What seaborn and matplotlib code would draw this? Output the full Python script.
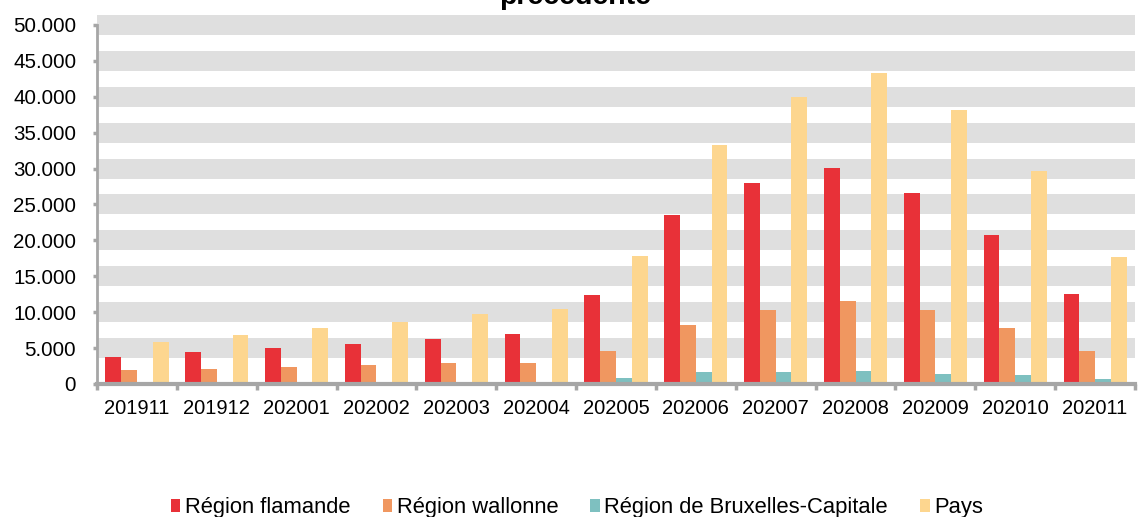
import matplotlib
matplotlib.use("Agg")
import matplotlib.pyplot as plt
from matplotlib.patches import Patch
from matplotlib.ticker import FuncFormatter, FixedLocator
import seaborn as sns
import pandas as pd

# ------------------------------------------------------------
#  Données
# ------------------------------------------------------------
mois = ["201911", "201912", "202001", "202002", "202003", "202004", "202005",
        "202006", "202007", "202008", "202009", "202010", "202011"]

flamande = [3700, 4400, 5000, 5560, 6250, 6950, 12400,
            23500, 28050, 30100, 26600, 20700, 12600]
wallonne = [1950, 2080, 2360, 2640, 2870, 2920, 4630,
            8240, 10320, 11530, 10320, 7820, 4540]
bruxelles = [30, 40, 60, 100, 150, 200, 880,
             1620, 1670, 1800, 1430, 1250, 740]
pays = [5880, 6800, 7740, 8600, 9700, 10400, 17780,
        33300, 39960, 43330, 38200, 29620, 17740]

regions = ["Région flamande", "Région wallonne",
           "Région de Bruxelles-Capitale", "Pays"]
couleurs = ["#E83138", "#F09760", "#7EC0C0", "#FDD68F"]

df = pd.DataFrame({
    "mois": mois * 4,
    "valeur": flamande + wallonne + bruxelles + pays,
    "region": [r for r in regions for _ in mois],
})

plt.rcParams["font.family"] = ["Liberation Sans", "DejaVu Sans"]
gris = "#A6A6A6"

fig = plt.figure(figsize=(11.39, 5.17), dpi=100)
ax = fig.add_axes([0.0852, 0.2573, 0.9113, 0.6944])

# bandes grises autour de chaque graduation
for v in range(5000, 50001, 5000):
    ax.axhspan(v - 1390, v + 1390, color="#DFDFDF", zorder=0,
               lw=0, clip_on=False)

sns.barplot(data=df, x="mois", y="valeur", hue="region",
            palette=couleurs, width=0.79, saturation=1,
            ax=ax, zorder=2)
ax.legend_.remove()

ax.set_ylim(0, 50000)
ax.set_xlim(-0.5, len(mois) - 0.5)
ax.set_yticks(range(0, 50001, 5000))
ax.yaxis.set_major_formatter(
    FuncFormatter(lambda v, p: f"{int(v):,}".replace(",", ".")))
ax.set_xlabel("")
ax.set_ylabel("")

for s in ["top", "right"]:
    ax.spines[s].set_visible(False)
ax.spines["left"].set_color(gris)
ax.spines["left"].set_linewidth(2)
ax.spines["bottom"].set_color(gris)
ax.spines["bottom"].set_linewidth(3)
ax.spines["left"].set_zorder(3)
ax.spines["bottom"].set_zorder(3)

ax.tick_params(axis="y", direction="out", length=3, width=2.5,
               color=gris, labelsize=14.8, pad=12)
ax.tick_params(axis="x", which="major", length=0, labelsize=14.5, pad=11)
ax.xaxis.set_minor_locator(FixedLocator([i - 0.5 for i in range(len(mois) + 1)]))
ax.tick_params(axis="x", which="minor", direction="out", length=4,
               width=2.5, color=gris)

# titre (seule la dernière ligne est visible)
fig.text(0.505, 1 - 3.5 / 517, "précédente", ha="center", va="baseline",
         fontsize=20.5, fontweight="bold")

poignees = [Patch(facecolor=c, edgecolor="none") for c in couleurs]
fig.legend(poignees, regions, loc="center",
           bbox_to_anchor=(577 / 1139, 1 - 508 / 517), ncol=4,
           frameon=False, fontsize=15.8, handlelength=0.42,
           handleheight=0.55, handletextpad=0.22, columnspacing=1.47)

plt.savefig("out.png", dpi=100)
